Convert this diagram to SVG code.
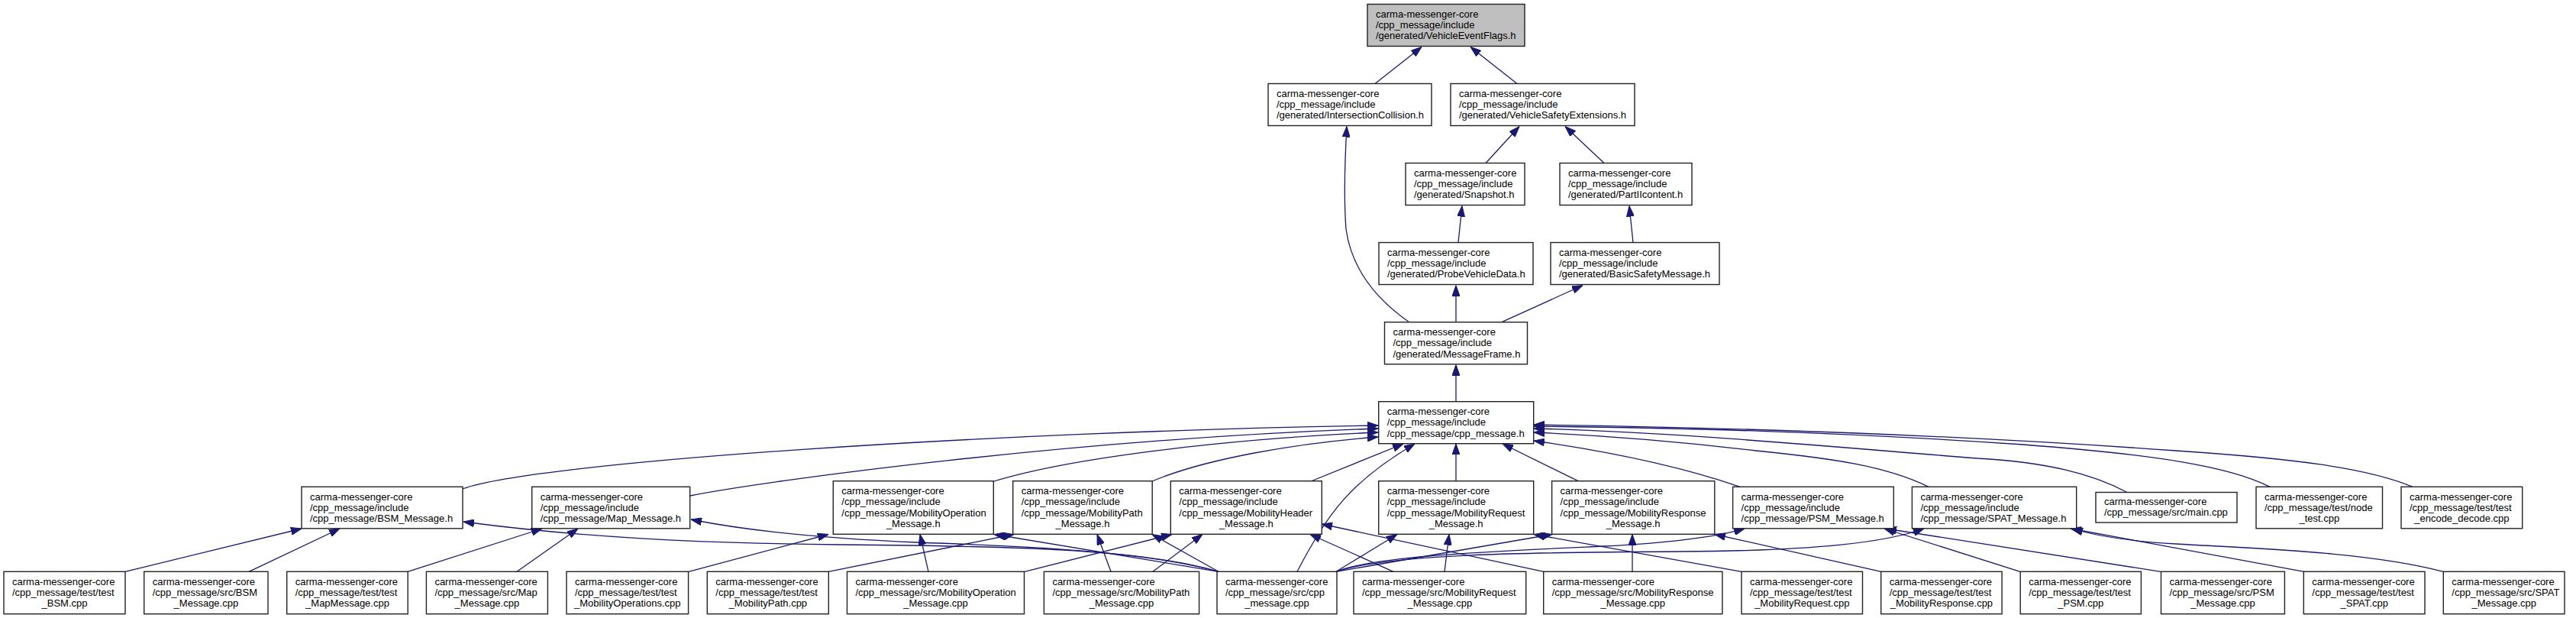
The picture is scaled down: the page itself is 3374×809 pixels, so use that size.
<svg xmlns="http://www.w3.org/2000/svg" width="3374" height="809" viewBox="0 0 3374 809">
<style>
.n{fill:#fff;stroke:#222;stroke-width:1.4}
.r{fill:#bfbfbf;stroke:#222;stroke-width:1.4}
text{font-family:"Liberation Sans",Arial,sans-serif;font-size:13px;fill:#000}
.c{text-anchor:middle}
.e path{fill:none;stroke:#191970;stroke-width:1.3;marker-end:url(#a)}
</style>
<defs>
<marker id="a" markerUnits="userSpaceOnUse" markerWidth="14" markerHeight="10" refX="14" refY="5" orient="auto"><path d="M0,0 L14,5 L0,10 z" fill="#191970" stroke="#191970" stroke-width="1"/></marker>
</defs>
<rect width="3374" height="809" fill="#fff"/>
<g class="e" id="connectors">
<path d="M1801,109.5 L1862,61.5"/>
<path d="M1987,109.5 L1926,61.5"/>
<path d="M1946,213.5 L1990,165.5"/>
<path d="M2101,213.5 L2050,165.5"/>
<path d="M1910,317.5 L1915,269.5"/>
<path d="M2139,317.5 L2134,269.5"/>
<path d="M1846,422 C1800,390 1770,350 1763,300 C1760,260 1762,200 1764,165.5"/>
<path d="M1907,421.7 L1907,373.5"/>
<path d="M1967,421.7 L2073,373.5"/>
<path d="M1907,525.7 L1907,477.5"/>
<path d="M606,640 C700,605 1300,565 1805,557"/>
<path d="M904,649 C1000,630 1400,575 1805,561"/>
<path d="M1302,630 C1400,600 1600,575 1805,566"/>
<path d="M1509,630 C1580,600 1700,580 1805,572"/>
<path d="M1717,630 L1838,581"/>
<path d="M1699,748.3 C1740,670 1770,630 1853,581"/>
<path d="M1907,629.7 L1907,581"/>
<path d="M2067,629.7 L1968,581"/>
<path d="M2279,637.3 C2200,610 2100,590 2009,577"/>
<path d="M2526,637.3 C2470,610 2400,600 2300,590 C2200,578 2100,570 2009,566"/>
<path d="M2786,644.5 C2740,620 2680,605 2590,600 C2400,585 2200,566 2009,561"/>
<path d="M2973,637.3 C2920,610 2820,595 2650,582 C2400,565 2200,560 2009,558"/>
<path d="M3160,637.3 C3100,612 3000,600 2850,590 C2600,572 2300,560 2009,556"/>
<path d="M164,748.3 L395,692"/>
<path d="M326,748.3 L445,692"/>
<path d="M1596,748.3 C1500,720 1350,715 1100,713 C900,711 750,702 607,683"/>
<path d="M534,748.3 L710,692"/>
<path d="M677,748.3 L757,692"/>
<path d="M1596,748.3 C1500,722 1350,715 1200,710 C1080,705 980,695 905,680"/>
<path d="M902,748.3 L1085,699.5"/>
<path d="M1216,748.3 L1205,699.5"/>
<path d="M1596,748.3 L1302,699.5"/>
<path d="M1085,748.3 L1328,699.5"/>
<path d="M1455,748.3 L1437,699.5"/>
<path d="M1596,748.3 L1509,699.5"/>
<path d="M1342,748.3 L1535,699.5"/>
<path d="M1510,748.3 L1575,699.5"/>
<path d="M1825,748.3 L1716,699.5"/>
<path d="M2022,748.3 L1731,686"/>
<path d="M1750,748.3 L1830,699.5"/>
<path d="M1892,748.3 L1898,699.5"/>
<path d="M2281,748.3 L2009,699.5"/>
<path d="M1750,748.3 L2033,699.5"/>
<path d="M2138,748.3 L2138,699.5"/>
<path d="M2464,748.3 L2246,699.5"/>
<path d="M1750,748.3 C1800,728 1950,722 2100,715 C2200,710 2250,702 2285,692"/>
<path d="M2646,748.3 L2468,692"/>
<path d="M2830,748.3 L2470,692"/>
<path d="M1750,748.3 C1820,725 2000,723 2200,722 C2380,721 2470,710 2520,692"/>
<path d="M3018,748.3 L2712,692"/>
<path d="M3200,748.3 C3100,722 2950,718 2850,712 C2780,708 2740,700 2714,692"/>
</g>
<g id="n_vef"><rect class="r" x="1791" y="5.5" width="206" height="55"/><text x="1802" y="22.8">carma-messenger-core<tspan x="1802" y="37.1">/cpp_message/include</tspan><tspan x="1802" y="51.4">/generated/VehicleEventFlags.h</tspan></text></g>
<g id="n_ic"><rect class="n" x="1661" y="109.5" width="214" height="55"/><text x="1672" y="126.8">carma-messenger-core<tspan x="1672" y="141.1">/cpp_message/include</tspan><tspan x="1672" y="155.4">/generated/IntersectionCollision.h</tspan></text></g>
<g id="n_vse"><rect class="n" x="1900" y="109.5" width="241" height="55"/><text x="1911" y="126.8">carma-messenger-core<tspan x="1911" y="141.1">/cpp_message/include</tspan><tspan x="1911" y="155.4">/generated/VehicleSafetyExtensions.h</tspan></text></g>
<g id="n_snap"><rect class="n" x="1841" y="213.5" width="156" height="55"/><text x="1852" y="230.8">carma-messenger-core<tspan x="1852" y="245.1">/cpp_message/include</tspan><tspan x="1852" y="259.4">/generated/Snapshot.h</tspan></text></g>
<g id="n_p2"><rect class="n" x="2043" y="213.5" width="173" height="55"/><text x="2054" y="230.8">carma-messenger-core<tspan x="2054" y="245.1">/cpp_message/include</tspan><tspan x="2054" y="259.4">/generated/PartIIcontent.h</tspan></text></g>
<g id="n_pvd"><rect class="n" x="1806" y="317.5" width="202" height="55"/><text x="1817" y="334.8">carma-messenger-core<tspan x="1817" y="349.1">/cpp_message/include</tspan><tspan x="1817" y="363.4">/generated/ProbeVehicleData.h</tspan></text></g>
<g id="n_bsmg"><rect class="n" x="2031" y="317.5" width="221" height="55"/><text x="2042" y="334.8">carma-messenger-core<tspan x="2042" y="349.1">/cpp_message/include</tspan><tspan x="2042" y="363.4">/generated/BasicSafetyMessage.h</tspan></text></g>
<g id="n_mf"><rect class="n" x="1813.5" y="421.7" width="187" height="55"/><text x="1824.5" y="439">carma-messenger-core<tspan x="1824.5" y="453.3">/cpp_message/include</tspan><tspan x="1824.5" y="467.6">/generated/MessageFrame.h</tspan></text></g>
<g id="n_cpph"><rect class="n" x="1805.7" y="525.7" width="203" height="55"/><text x="1816.7" y="543">carma-messenger-core<tspan x="1816.7" y="557.3">/cpp_message/include</tspan><tspan x="1816.7" y="571.6">/cpp_message/cpp_message.h</tspan></text></g>
<g id="n_bsmh"><rect class="n" x="395" y="637.3" width="211" height="54.5"/><text x="406" y="654.6">carma-messenger-core<tspan x="406" y="668.9">/cpp_message/include</tspan><tspan x="406" y="683.2">/cpp_message/BSM_Message.h</tspan></text></g>
<g id="n_maph"><rect class="n" x="696.7" y="637.3" width="207" height="54.5"/><text x="707.7" y="654.6">carma-messenger-core<tspan x="707.7" y="668.9">/cpp_message/include</tspan><tspan x="707.7" y="683.2">/cpp_message/Map_Message.h</tspan></text></g>
<g id="n_moph"><rect class="n" x="1091.3" y="629.7" width="210" height="69.6"/><text x="1102.3" y="647">carma-messenger-core<tspan x="1102.3" y="661.3">/cpp_message/include</tspan><tspan x="1102.3" y="675.6">/cpp_message/MobilityOperation</tspan></text><text class="c" x="1196.3" y="689.9">_Message.h</text></g>
<g id="n_mpath"><rect class="n" x="1326.7" y="629.7" width="182.5" height="69.6"/><text x="1337.7" y="647">carma-messenger-core<tspan x="1337.7" y="661.3">/cpp_message/include</tspan><tspan x="1337.7" y="675.6">/cpp_message/MobilityPath</tspan></text><text class="c" x="1418" y="689.9">_Message.h</text></g>
<g id="n_mhdr"><rect class="n" x="1533.3" y="629.7" width="198" height="69.6"/><text x="1544.3" y="647">carma-messenger-core<tspan x="1544.3" y="661.3">/cpp_message/include</tspan><tspan x="1544.3" y="675.6">/cpp_message/MobilityHeader</tspan></text><text class="c" x="1632.3" y="689.9">_Message.h</text></g>
<g id="n_mreq"><rect class="n" x="1805.7" y="629.7" width="203" height="69.6"/><text x="1816.7" y="647">carma-messenger-core<tspan x="1816.7" y="661.3">/cpp_message/include</tspan><tspan x="1816.7" y="675.6">/cpp_message/MobilityRequest</tspan></text><text class="c" x="1907.2" y="689.9">_Message.h</text></g>
<g id="n_mresp"><rect class="n" x="2032.6" y="629.7" width="213.2" height="69.6"/><text x="2043.6" y="647">carma-messenger-core<tspan x="2043.6" y="661.3">/cpp_message/include</tspan><tspan x="2043.6" y="675.6">/cpp_message/MobilityResponse</tspan></text><text class="c" x="2139.2" y="689.9">_Message.h</text></g>
<g id="n_psmh"><rect class="n" x="2269.6" y="637.3" width="210.7" height="54.5"/><text x="2280.6" y="654.6">carma-messenger-core<tspan x="2280.6" y="668.9">/cpp_message/include</tspan><tspan x="2280.6" y="683.2">/cpp_message/PSM_Message.h</tspan></text></g>
<g id="n_spath"><rect class="n" x="2504.4" y="637.3" width="215.3" height="54.5"/><text x="2515.4" y="654.6">carma-messenger-core<tspan x="2515.4" y="668.9">/cpp_message/include</tspan><tspan x="2515.4" y="683.2">/cpp_message/SPAT_Message.h</tspan></text></g>
<g id="n_main"><rect class="n" x="2745" y="644.5" width="185" height="39.5"/><text x="2756" y="661">carma-messenger-core<tspan x="2756" y="675.3">/cpp_message/src/main.cpp</tspan></text></g>
<g id="n_node"><rect class="n" x="2955" y="637.3" width="165.5" height="54.5"/><text x="2966" y="654.6">carma-messenger-core<tspan x="2966" y="668.9">/cpp_message/test/node</tspan></text><text class="c" x="3037.8" y="683.2">_test.cpp</text></g>
<g id="n_enc"><rect class="n" x="3145" y="637.3" width="158.7" height="54.5"/><text x="3156" y="654.6">carma-messenger-core<tspan x="3156" y="668.9">/cpp_message/test/test</tspan></text><text class="c" x="3224.4" y="683.2">_encode_decode.cpp</text></g>
<g id="t_bsm"><rect class="n" x="5" y="748.3" width="159" height="55.4"/><text x="16" y="765.6">carma-messenger-core<tspan x="16" y="779.9">/cpp_message/test/test</tspan></text><text class="c" x="84.5" y="794.2">_BSM.cpp</text></g>
<g id="s_bsm"><rect class="n" x="188.7" y="748.3" width="162.3" height="55.4"/><text x="199.7" y="765.6">carma-messenger-core<tspan x="199.7" y="779.9">/cpp_message/src/BSM</tspan></text><text class="c" x="269.9" y="794.2">_Message.cpp</text></g>
<g id="t_map"><rect class="n" x="375.7" y="748.3" width="158.5" height="55.4"/><text x="386.7" y="765.6">carma-messenger-core<tspan x="386.7" y="779.9">/cpp_message/test/test</tspan></text><text class="c" x="455" y="794.2">_MapMessage.cpp</text></g>
<g id="s_map"><rect class="n" x="558.4" y="748.3" width="159" height="55.4"/><text x="569.4" y="765.6">carma-messenger-core<tspan x="569.4" y="779.9">/cpp_message/src/Map</tspan></text><text class="c" x="637.9" y="794.2">_Message.cpp</text></g>
<g id="t_mops"><rect class="n" x="742" y="748.3" width="159.6" height="55.4"/><text x="753" y="765.6">carma-messenger-core<tspan x="753" y="779.9">/cpp_message/test/test</tspan></text><text class="c" x="821.8" y="794.2">_MobilityOperations.cpp</text></g>
<g id="t_mpath"><rect class="n" x="926.3" y="748.3" width="159" height="55.4"/><text x="937.3" y="765.6">carma-messenger-core<tspan x="937.3" y="779.9">/cpp_message/test/test</tspan></text><text class="c" x="1005.8" y="794.2">_MobilityPath.cpp</text></g>
<g id="s_mop"><rect class="n" x="1109.5" y="748.3" width="232" height="55.4"/><text x="1120.5" y="765.6">carma-messenger-core<tspan x="1120.5" y="779.9">/cpp_message/src/MobilityOperation</tspan></text><text class="c" x="1225.5" y="794.2">_Message.cpp</text></g>
<g id="s_mpath"><rect class="n" x="1367.4" y="748.3" width="203.2" height="55.4"/><text x="1378.4" y="765.6">carma-messenger-core<tspan x="1378.4" y="779.9">/cpp_message/src/MobilityPath</tspan></text><text class="c" x="1469" y="794.2">_Message.cpp</text></g>
<g id="s_cpp"><rect class="n" x="1594" y="748.3" width="157" height="55.4"/><text x="1605" y="765.6">carma-messenger-core<tspan x="1605" y="779.9">/cpp_message/src/cpp</tspan></text><text class="c" x="1672.5" y="794.2">_message.cpp</text></g>
<g id="s_mreq"><rect class="n" x="1773" y="748.3" width="225.7" height="55.4"/><text x="1784" y="765.6">carma-messenger-core<tspan x="1784" y="779.9">/cpp_message/src/MobilityRequest</tspan></text><text class="c" x="1885.9" y="794.2">_Message.cpp</text></g>
<g id="s_mresp"><rect class="n" x="2021.7" y="748.3" width="234.2" height="55.4"/><text x="2032.7" y="765.6">carma-messenger-core<tspan x="2032.7" y="779.9">/cpp_message/src/MobilityResponse</tspan></text><text class="c" x="2138.8" y="794.2">_Message.cpp</text></g>
<g id="t_mreq"><rect class="n" x="2281" y="748.3" width="158.5" height="55.4"/><text x="2292" y="765.6">carma-messenger-core<tspan x="2292" y="779.9">/cpp_message/test/test</tspan></text><text class="c" x="2360.3" y="794.2">_MobilityRequest.cpp</text></g>
<g id="t_mresp"><rect class="n" x="2463.7" y="748.3" width="158.4" height="55.4"/><text x="2474.7" y="765.6">carma-messenger-core<tspan x="2474.7" y="779.9">/cpp_message/test/test</tspan></text><text class="c" x="2542.9" y="794.2">_MobilityResponse.cpp</text></g>
<g id="t_psm"><rect class="n" x="2646.2" y="748.3" width="158.2" height="55.4"/><text x="2657.2" y="765.6">carma-messenger-core<tspan x="2657.2" y="779.9">/cpp_message/test/test</tspan></text><text class="c" x="2725.3" y="794.2">_PSM.cpp</text></g>
<g id="s_psm"><rect class="n" x="2830.5" y="748.3" width="161.9" height="55.4"/><text x="2841.5" y="765.6">carma-messenger-core<tspan x="2841.5" y="779.9">/cpp_message/src/PSM</tspan></text><text class="c" x="2911.5" y="794.2">_Message.cpp</text></g>
<g id="t_spat"><rect class="n" x="3017.3" y="748.3" width="158.7" height="55.4"/><text x="3028.3" y="765.6">carma-messenger-core<tspan x="3028.3" y="779.9">/cpp_message/test/test</tspan></text><text class="c" x="3096.7" y="794.2">_SPAT.cpp</text></g>
<g id="s_spat"><rect class="n" x="3200.3" y="748.3" width="158.7" height="55.4"/><text x="3211.3" y="765.6">carma-messenger-core<tspan x="3211.3" y="779.9">/cpp_message/src/SPAT</tspan></text><text class="c" x="3279.7" y="794.2">_Message.cpp</text></g>
</svg>
